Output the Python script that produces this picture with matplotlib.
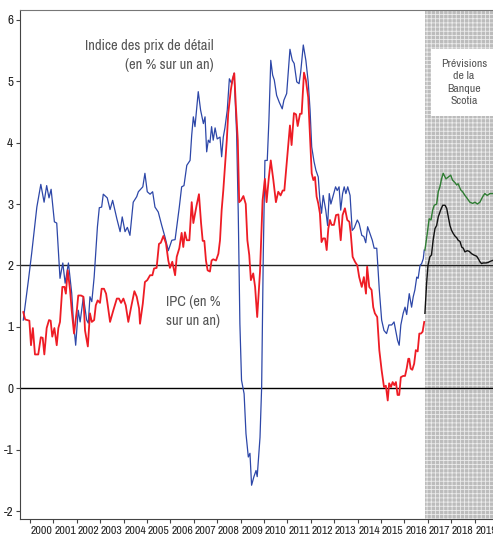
#! /usr/bin/env python3
#
# UK inflation: RPI and CPI (y/y %), with Scotiabank forecasts
#

import numpy as np
import matplotlib
matplotlib.use("Agg")
import matplotlib.pyplot as plt

# Data, time in decimal years
#
rpiT = [1999.71, 1999.93, 2000.07, 2000.29, 2000.46, 2000.60, 2000.71, 2000.81, 2000.90,
	2001.04, 2001.14, 2001.28, 2001.40, 2001.50, 2001.64, 2001.78, 2001.85, 2001.95,
	2002.06, 2002.14, 2002.28, 2002.42, 2002.49, 2002.56, 2002.64, 2002.74, 2002.88, 2002.96,
	2003.06, 2003.13, 2003.30, 2003.42, 2003.53, 2003.71, 2003.85, 2003.94,
	2004.06, 2004.16, 2004.27, 2004.41, 2004.56, 2004.63, 2004.82, 2004.91,
	2005.01, 2005.13, 2005.24, 2005.34, 2005.48, 2005.63, 2005.77, 2005.91,
	2006.06, 2006.20, 2006.27, 2006.38, 2006.48, 2006.58, 2006.70, 2006.84, 2006.91, 2006.98,
	2007.05, 2007.12, 2007.19, 2007.29, 2007.41, 2007.48, 2007.55, 2007.62, 2007.69, 2007.76, 2007.83, 2007.91,
	2008.00, 2008.12, 2008.19, 2008.26, 2008.33, 2008.43, 2008.52, 2008.62, 2008.72, 2008.83, 2008.90, 2008.97,
	2009.04, 2009.15, 2009.23, 2009.33, 2009.40, 2009.47, 2009.57, 2009.66, 2009.71, 2009.83, 2009.90, 2009.97,
	2010.04, 2010.14, 2010.21, 2010.29, 2010.37, 2010.44, 2010.54, 2010.65, 2010.78, 2010.85, 2010.97,
	2011.11, 2011.21, 2011.29, 2011.40, 2011.50, 2011.57, 2011.68, 2011.79, 2011.89, 2011.97,
	2012.04, 2012.14, 2012.22, 2012.32, 2012.39, 2012.46, 2012.53, 2012.64, 2012.72, 2012.79, 2012.86, 2012.96,
	2013.06, 2013.13, 2013.21, 2013.28, 2013.36, 2013.43, 2013.50, 2013.58, 2013.68, 2013.77, 2013.86, 2013.99,
	2014.07, 2014.18, 2014.27, 2014.35, 2014.43, 2014.53, 2014.63, 2014.71, 2014.82, 2014.88, 2014.93,
	2015.03, 2015.13, 2015.24, 2015.34, 2015.46, 2015.56, 2015.64, 2015.71, 2015.78, 2015.85, 2015.95,
	2016.03, 2016.10, 2016.21, 2016.31, 2016.38, 2016.45, 2016.53, 2016.59, 2016.67, 2016.74, 2016.81, 2016.85]
rpiV = [1.11, 1.76, 2.20, 2.95, 3.32, 3.03, 3.30, 3.10, 3.24,
	2.71, 2.69, 1.79, 2.04, 1.71, 2.04, 1.55, 1.11, 0.70,
	1.27, 1.08, 1.49, 1.11, 1.06, 1.49, 1.41, 1.81, 2.63, 2.94,
	2.95, 3.16, 3.10, 2.91, 3.06, 2.76, 2.55, 2.79,
	2.55, 2.62, 2.49, 3.03, 3.12, 3.20, 3.28, 3.50,
	3.20, 3.16, 3.20, 2.95, 2.87, 2.65, 2.46, 2.24,
	2.41, 2.42, 2.63, 2.95, 3.28, 3.30, 3.63, 3.71, 4.12, 4.42,
	4.26, 4.55, 4.83, 4.53, 4.31, 4.42, 3.85, 4.04, 4.00, 4.26, 4.04, 4.24,
	4.06, 4.09, 3.77, 4.09, 4.24, 4.53, 5.04, 4.96, 5.13, 4.15, 2.85, 1.05,
	0.13, -0.09, -0.74, -1.12, -1.06, -1.58, -1.44, -1.34, -1.44, -0.80, 0.02, 2.19,
	3.71, 3.71, 4.36, 5.34, 5.10, 5.02, 4.77, 4.66, 4.55, 4.69, 4.80,
	5.52, 5.34, 5.29, 4.99, 4.96, 5.15, 5.59, 5.34, 4.99, 4.53,
	3.93, 3.69, 3.55, 3.44, 3.06, 2.85, 3.14, 2.90, 2.65, 3.17, 3.00, 3.14,
	3.28, 3.22, 3.28, 2.90, 3.17, 3.28, 3.17, 3.28, 3.14, 2.57, 2.61, 2.74,
	2.68, 2.49, 2.47, 2.37, 2.63, 2.52, 2.41, 2.28, 2.28, 1.92, 1.60,
	1.11, 0.94, 0.89, 1.03, 1.03, 1.08, 0.92, 0.78, 0.70, 1.03, 1.22,
	1.32, 1.20, 1.54, 1.32, 1.49, 1.60, 1.81, 1.79, 2.00, 2.03, 2.11, 2.25]

cpiT = [1999.71, 1999.79, 1999.97, 2000.04, 2000.12, 2000.21, 2000.35, 2000.46, 2000.54, 2000.61,
	2000.71, 2000.81, 2000.88, 2000.95, 2001.04, 2001.14, 2001.21, 2001.28, 2001.38, 2001.47,
	2001.53, 2001.61, 2001.71, 2001.78, 2001.88, 2002.00, 2002.06, 2002.18, 2002.28, 2002.35,
	2002.47, 2002.56, 2002.64, 2002.74, 2002.81, 2002.89, 2002.99, 2003.06, 2003.16, 2003.25,
	2003.30, 2003.42, 2003.56, 2003.71, 2003.80, 2003.89, 2003.99, 2004.09, 2004.20, 2004.32,
	2004.46, 2004.56, 2004.66, 2004.70, 2004.82, 2004.91, 2005.01, 2005.13, 2005.23, 2005.30,
	2005.41, 2005.51, 2005.59, 2005.70, 2005.81, 2005.91, 2005.98, 2006.08, 2006.20, 2006.27,
	2006.38, 2006.48, 2006.55, 2006.62, 2006.70, 2006.81, 2006.91, 2006.98, 2007.05, 2007.12,
	2007.22, 2007.31, 2007.38, 2007.45, 2007.52, 2007.59, 2007.69, 2007.76, 2007.83, 2007.95,
	2008.05, 2008.12, 2008.19, 2008.26, 2008.33, 2008.41, 2008.47, 2008.58, 2008.65, 2008.73,
	2008.80, 2008.88, 2008.94, 2009.02, 2009.12, 2009.22, 2009.29, 2009.37, 2009.44, 2009.54,
	2009.62, 2009.71, 2009.83, 2009.94, 2010.04, 2010.11, 2010.21, 2010.29, 2010.40, 2010.51,
	2010.61, 2010.71, 2010.80, 2010.87, 2010.97, 2011.11, 2011.18, 2011.28, 2011.37, 2011.44,
	2011.54, 2011.61, 2011.71, 2011.79, 2011.89, 2011.97, 2012.04, 2012.11, 2012.18, 2012.25,
	2012.32, 2012.39, 2012.46, 2012.53, 2012.61, 2012.68, 2012.75, 2012.82, 2012.89, 2012.99,
	2013.08, 2013.18, 2013.28, 2013.36, 2013.46, 2013.56, 2013.65, 2013.71, 2013.79, 2013.89,
	2013.99, 2014.07, 2014.18, 2014.27, 2014.36, 2014.41, 2014.50, 2014.60, 2014.67, 2014.74,
	2014.84, 2014.93, 2015.03, 2015.13, 2015.21, 2015.29, 2015.35, 2015.43, 2015.50, 2015.57,
	2015.64, 2015.71, 2015.78, 2015.85, 2015.95, 2016.03, 2016.10, 2016.17, 2016.21, 2016.27,
	2016.34, 2016.42, 2016.49, 2016.57, 2016.64, 2016.71, 2016.78, 2016.85]
cpiV = [1.24, 1.12, 1.10, 0.70, 0.98, 0.55, 0.55, 0.83, 0.82, 0.55,
	0.98, 1.11, 1.10, 0.84, 0.98, 0.70, 0.98, 1.08, 1.65, 1.65,
	1.54, 1.92, 1.60, 1.27, 0.89, 1.27, 1.51, 1.51, 1.49, 0.94,
	0.68, 1.22, 1.08, 1.11, 1.35, 1.43, 1.39, 1.62, 1.62, 1.54,
	1.41, 1.08, 1.27, 1.46, 1.46, 1.39, 1.46, 1.35, 1.08, 1.32,
	1.58, 1.49, 1.30, 1.05, 1.38, 1.73, 1.76, 1.84, 1.84, 1.95,
	1.96, 2.35, 2.37, 2.48, 2.36, 2.08, 1.96, 2.06, 1.84, 2.14,
	2.28, 2.53, 2.30, 2.54, 2.41, 2.41, 3.03, 2.69, 2.84, 2.98,
	3.16, 2.69, 2.40, 2.40, 2.08, 1.92, 1.90, 2.08, 2.10, 2.08,
	2.19, 2.41, 2.90, 3.22, 3.60, 4.04, 4.47, 4.85, 5.02, 5.13,
	4.58, 4.04, 3.03, 3.06, 3.13, 3.00, 2.41, 2.17, 1.76, 1.87,
	1.65, 1.16, 1.90, 3.06, 3.41, 3.03, 3.44, 3.71, 3.39, 3.03,
	3.20, 3.14, 3.22, 3.22, 3.66, 4.28, 3.96, 4.48, 4.46, 4.27,
	4.47, 4.47, 5.14, 5.02, 4.74, 4.09, 3.50, 3.39, 3.44, 3.12,
	3.01, 2.85, 2.38, 2.44, 2.44, 2.25, 2.60, 2.74, 2.66, 2.66,
	2.82, 2.83, 2.41, 2.82, 2.93, 2.74, 2.71, 2.52, 2.14, 2.06,
	2.00, 1.81, 1.65, 1.81, 1.54, 1.98, 1.65, 1.60, 1.32, 1.22,
	1.16, 0.62, 0.29, 0.02, 0.04, -0.20, 0.08, 0.02, 0.10, 0.05,
	0.10, -0.11, -0.11, 0.18, 0.20, 0.20, 0.32, 0.48, 0.48, 0.32,
	0.30, 0.40, 0.62, 0.60, 0.89, 0.89, 0.92, 1.08]

# Forecasts
rpiFcT = [2016.88, 2016.98, 2017.06, 2017.14, 2017.21, 2017.28, 2017.38, 2017.45, 2017.52, 2017.59,
	2017.66, 2017.78, 2017.88, 2017.98, 2018.06, 2018.16, 2018.24, 2018.30, 2018.41, 2018.49,
	2018.59, 2018.69, 2018.80, 2018.92, 2019.02, 2019.12, 2019.23, 2019.35, 2019.44, 2019.54,
	2019.66, 2019.77]
rpiFcV = [2.25, 2.52, 2.76, 2.74, 2.90, 2.98, 3.00, 3.20, 3.28, 3.41,
	3.50, 3.41, 3.44, 3.47, 3.39, 3.35, 3.31, 3.33, 3.23, 3.20,
	3.14, 3.09, 3.03, 3.01, 3.03, 3.00, 3.03, 3.12, 3.17, 3.14,
	3.17, 3.17]
cpiFcT = [2016.88, 2016.95, 2017.01, 2017.09, 2017.16, 2017.23, 2017.31, 2017.38, 2017.45, 2017.55,
	2017.64, 2017.74, 2017.81, 2017.88, 2017.95, 2018.02, 2018.09, 2018.16, 2018.24, 2018.30,
	2018.38, 2018.45, 2018.52, 2018.59, 2018.69, 2018.77, 2018.88, 2018.97, 2019.09, 2019.16,
	2019.23, 2019.30, 2019.37, 2019.49, 2019.59, 2019.69, 2019.77]
cpiFcV = [1.22, 1.70, 2.00, 2.14, 2.17, 2.41, 2.60, 2.65, 2.79, 2.90,
	2.98, 2.98, 2.93, 2.79, 2.65, 2.57, 2.52, 2.48, 2.45, 2.41,
	2.39, 2.30, 2.28, 2.22, 2.24, 2.23, 2.19, 2.17, 2.15, 2.11,
	2.06, 2.03, 2.04, 2.04, 2.05, 2.07, 2.08]

years = list(range(2000, 2020))
yTicks = [-2, -1, 0, 1, 2, 3, 4, 5, 6]
forecastStart = 2016.88
target = 2.0

###########################
# Plot:
##########
narrow = ['Archivo Narrow', 'PT Sans Narrow', 'Roboto Condensed', 'Liberation Sans', 'DejaVu Sans']
plt.rcParams['font.family'] = narrow
plt.rcParams['hatch.linewidth'] = 0.6

dpi = 100.0
fig = plt.figure(figsize=(493/dpi, 548/dpi), dpi=dpi)
ax = fig.add_axes([20/493., 29/548., 1.0 - 20/493., 509/548.])

xMin, xMax = 1999.57, 2019.79
ax.set_xlim(xMin, xMax)
ax.set_ylim(-2.13, 6.16)

# Forecast period shading
ax.axvspan(forecastStart, xMax + 1, facecolor='#bcbcbc', edgecolor='#ececec', hatch='++++', lw=0, zorder=0)

# Reference lines
ax.axhline(0, color='black', lw=1.0, zorder=2)
ax.axhline(target, color='#222222', lw=1.0, zorder=2)

# Series
ax.plot(rpiT, rpiV, color='#2d47a8', lw=0.9, zorder=3)
ax.plot(cpiT, cpiV, color='#ee1c25', lw=1.3, zorder=4)
ax.plot(rpiFcT, rpiFcV, color='#2e7d32', lw=1.0, zorder=3)
ax.plot(cpiFcT, cpiFcV, color='#111111', lw=1.0, zorder=3)

# Labels
ax.text(2007.86, 5.42, "Indice des prix de détail\n(en % sur un an)", ha='right', va='center',
	multialignment='right', color='#555555', fontsize=10.5, linespacing=1.5)
ax.text(2005.81, 1.25, "IPC (en %\nsur un an)", ha='left', va='center',
	color='#555555', fontsize=10.5, linespacing=1.5)
ax.text(2018.55, 4.98, "Prévisions\nde la\nBanque\nScotia", ha='center', va='center',
	color='#555555', fontsize=8.5, linespacing=1.3,
	bbox=dict(boxstyle='square,pad=0.85', facecolor='white', edgecolor='none'), zorder=5)

# Axes: year ticks at Jan 1st, labels in the middle of each year
ax.set_xticks(years)
ax.set_xticklabels([])
ax.set_xticks([y + 0.5 for y in years], minor=True)
ax.set_xticklabels([str(y) for y in years], minor=True, fontsize=8.5, color='#222222')
ax.tick_params(axis='x', which='major', direction='out', length=3, color='#444444')
ax.tick_params(axis='x', which='minor', length=0, pad=5)
ax.set_yticks(yTicks)
ax.set_yticklabels([str(v) for v in yTicks], fontsize=9.5, color='#222222')
ax.tick_params(axis='y', direction='out', length=3, color='#444444', pad=2)

ax.spines['right'].set_visible(False)
ax.spines['top'].set_color('#777777')
ax.spines['left'].set_color('#444444')
ax.spines['bottom'].set_color('#444444')

fig.savefig("out.png", dpi=dpi)
plt.close(fig)

# EOF
